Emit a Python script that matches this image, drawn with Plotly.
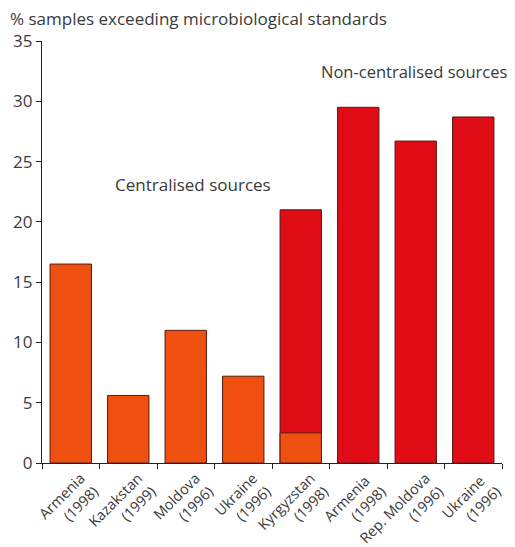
import plotly.graph_objects as go

categories = ["Armenia<br>(1998)", "Kazakstan<br>(1999)", "Moldova<br>(1996)", "Ukraine<br>(1996)",
              "Kyrgyzstan<br>(1998)", "Armenia <br>(1998)", "Rep. Moldova<br>(1996)", "Ukraine <br>(1996)"]
centralised = [16.5, 5.6, 11.0, 7.2, 2.5, None, None, None]
non_centralised = [None, None, None, None, 21.0, 29.5, 26.7, 28.7]

ORANGE = "#f0500f"
RED = "#e00d16"
TXT = "#3a3a3a"
FONT = "Open Sans"

fig = go.Figure()
fig.add_trace(go.Bar(x=categories, y=non_centralised, marker=dict(color=RED, line=dict(color="#5a1a10", width=1)),
                     width=0.72, name="Non-centralised"))
fig.add_trace(go.Bar(x=categories, y=centralised, marker=dict(color=ORANGE, line=dict(color="#5a1a10", width=1)),
                     width=0.72, name="Centralised"))

fig.update_layout(
    barmode="overlay",
    width=515, height=547,
    margin=dict(l=34, r=21, t=33, b=92),
    paper_bgcolor="white", plot_bgcolor="white",
    showlegend=False,
    font=dict(family=FONT, size=16, color=TXT),
    xaxis=dict(type="category", range=[-0.5, 7.5], tickangle=-45, showline=True, linecolor="#222",
               linewidth=1.2, ticks="outside", tickson="boundaries", ticklen=5, tickcolor="#222",
               showgrid=False, automargin=False, ticklabelshift=10,
               tickfont=dict(size=14.5, color=TXT)),
    yaxis=dict(range=[0, 35], dtick=5, showline=True, linecolor="#222", linewidth=1.2,
               ticks="outside", ticklen=5, tickcolor="#222", showgrid=False, zeroline=False,
               automargin=False, tickfont=dict(size=17, color=TXT)),
    annotations=[
        dict(text="% samples exceeding microbiological standards", xref="paper", yref="paper",
             x=-0.074, y=1.0, xanchor="left", yanchor="middle", yshift=23, showarrow=False,
             font=dict(size=17, color=TXT)),
        dict(text="Centralised sources", xref="paper", yref="y", x=0.154, y=23.1,
             xanchor="left", yanchor="middle", showarrow=False, font=dict(size=17, color=TXT)),
        dict(text="Non-centralised sources", xref="paper", yref="y", x=0.602, y=32.5,
             xanchor="left", yanchor="middle", showarrow=False, font=dict(size=16.5, color=TXT)),
    ],
)

fig.write_html("out.html")
